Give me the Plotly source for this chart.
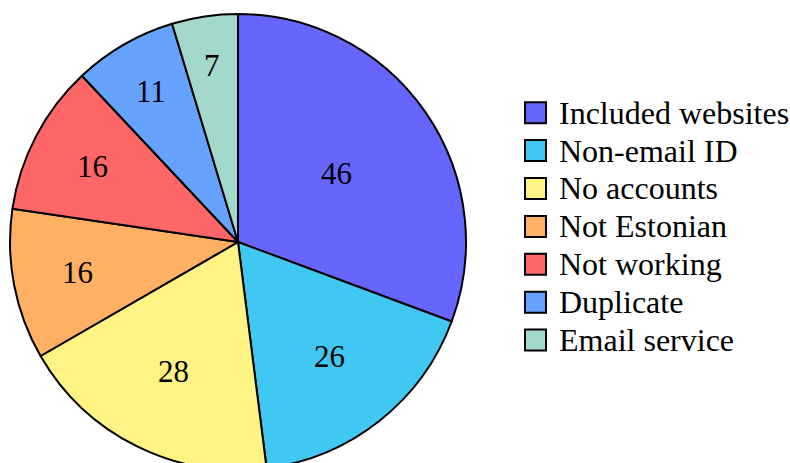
import math
import plotly.graph_objects as go

# Breakdown of the screened websites
labels = ["Included websites", "Non-email ID", "No accounts", "Not Estonian",
          "Not working", "Duplicate", "Email service"]
values = [46, 26, 28, 16, 16, 11, 7]
colors = ["#6666FF", "#40C8F2", "#FFF383", "#FFB062", "#FF6666", "#66A3FF", "#A2D9CB"]

# Radial placement of each value label, as a fraction of the pie radius
label_radius = [0.528, 0.643, 0.636, 0.715, 0.719, 0.762, 0.784]

W, H = 790, 470
FONT = "Liberation Serif, Times New Roman, serif"

# Pie geometry in pixels
CX, CY, R = 238, 242, 228


def px(x, y):
    """Convert pixel position (from top-left) to paper coordinates."""
    return x / W, 1 - y / H


fig = go.Figure(go.Pie(
    labels=labels,
    values=values,
    sort=False,
    direction="clockwise",
    rotation=0,
    marker=dict(colors=colors, line=dict(color="black", width=2)),
    textinfo="none",
    domain=dict(x=[(CX - R) / W, (CX + R) / W], y=[1 - (CY + R) / H, 1 - (CY - R) / H]),
    showlegend=False,
    hoverinfo="label+value",
))

shapes, annotations = [], []

# Value labels, placed along each slice's bisector
total = sum(values)
cum = 0
for v, rf in zip(values, label_radius):
    mid = (cum + v / 2) / total * 2 * math.pi
    cum += v
    x, y = px(CX + rf * R * math.sin(mid), CY - rf * R * math.cos(mid))
    annotations.append(dict(text=str(v), xref="paper", yref="paper", x=x, y=y,
                            xanchor="center", yanchor="middle", showarrow=False,
                            font=dict(family=FONT, size=31, color="black")))

# Legend: square swatches with black outline and serif labels
for i, (lab, col) in enumerate(zip(labels, colors)):
    cy = 112.7 + 37.9 * i
    x0, y0 = px(525, cy - 10.5)
    x1, y1 = px(546, cy + 10.5)
    shapes.append(dict(type="rect", xref="paper", yref="paper",
                       x0=x0, x1=x1, y0=y1, y1=y0,
                       fillcolor=col, line=dict(color="black", width=2)))
    tx, ty = px(557, cy)
    annotations.append(dict(text=lab, xref="paper", yref="paper", x=tx, y=ty,
                            xanchor="left", yanchor="middle", showarrow=False,
                            font=dict(family=FONT, size=32, color="black")))

fig.update_layout(
    width=W, height=H,
    margin=dict(l=0, r=0, t=0, b=0),
    paper_bgcolor="white",
    plot_bgcolor="white",
    shapes=shapes,
    annotations=annotations,
)

fig.write_html("out.html")
